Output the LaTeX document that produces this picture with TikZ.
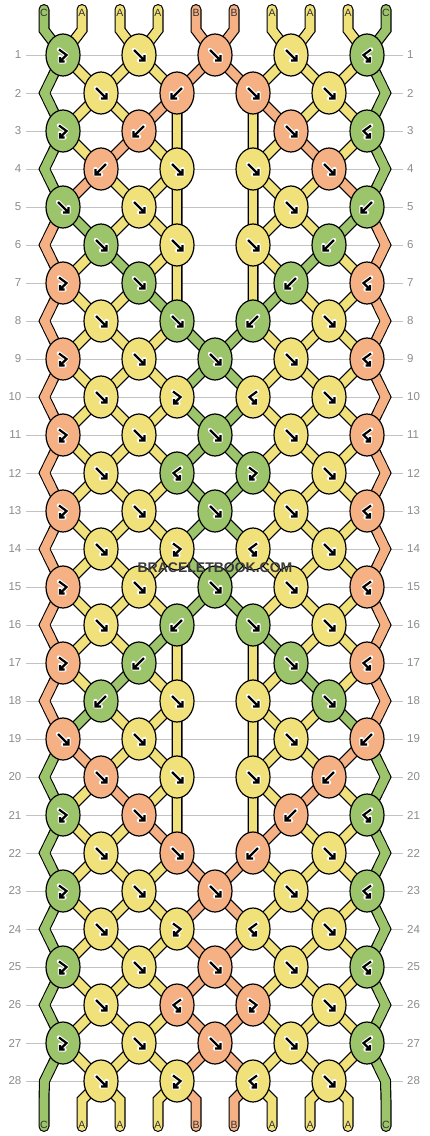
\documentclass[tikz,border=0pt]{standalone}
\usepackage{fontspec}
\setmainfont{Liberation Sans}
\usetikzlibrary{shapes.geometric,calc}
\pgfdeclarelayer{gridlayer}
\pgfdeclarelayer{strandlayer}
\pgfsetlayers{gridlayer,strandlayer,main}
\definecolor{colG}{RGB}{155,196,107}
\definecolor{colY}{RGB}{241,225,122}
\definecolor{colS}{RGB}{245,177,132}
\definecolor{rowgray}{RGB}{140,140,140}
\definecolor{linegray}{RGB}{195,195,195}
\definecolor{markgray}{RGB}{58,58,58}
\def\stA{G,Y,Y,Y,S,S,Y,Y,Y,G}
\def\stB{G,Y,Y,S,Y,Y,S,Y,Y,G}
\def\stC{G,Y,S,Y,Y,Y,Y,S,Y,G}
\def\stD{G,S,Y,Y,Y,Y,Y,Y,S,G}
\def\stE{S,G,Y,Y,Y,Y,Y,Y,G,S}
\def\stF{S,Y,G,Y,Y,Y,Y,G,Y,S}
\def\stG{S,Y,Y,G,Y,Y,G,Y,Y,S}
\def\stH{S,Y,Y,Y,G,G,Y,Y,Y,S}
\newcommand\twodraw[1]{\draw[arwhite] #1; \draw[arblack] #1;}
\newcommand\kaf{\twodraw{(-5,-5)--(5.5,5.5) (5.5,0)--(5.5,5.5)--(0,5.5)}}
\newcommand\kab{\twodraw{(5,-5)--(-5.5,5.5) (-5.5,0)--(-5.5,5.5)--(0,5.5)}}
\newcommand\kafb{\twodraw{(-4,-5.5)--(3.5,0)--(-3,6.5) (-3,2)--(-3,6.5)--(1.5,6.5)}}
\newcommand\kabf{\twodraw{(4,-5.5)--(-3.5,0)--(3,6.5) (3,2)--(3,6.5)--(-1.5,6.5)}}
\begin{document}
\begin{tikzpicture}[x=1pt,y=-1pt,
  knot/.style={ellipse,draw=black,line width=1.2pt,minimum width=34pt,minimum height=42pt,inner sep=0pt},
  blackline/.style={line width=11pt,draw=black,line cap=round,line join=miter},
  colline/.style={line width=8.6pt,line cap=round,line join=miter},
  joint/.style={line width=8.6pt,line cap=butt,line join=miter},
  gridline/.style={draw=linegray,line width=1pt},
  rowlab/.style={text=rowgray,font=\fontsize{11.5}{13}\selectfont,inner sep=0pt},
  endlab/.style={text=black!80,font=\fontsize{10.5}{12}\selectfont,inner sep=0pt},
  arwhite/.style={draw=white,line width=4.4pt,line cap=round,line join=round},
  arblack/.style={draw=black,line width=2.2pt,line cap=butt,line join=miter},
  wm/.style={font=\bfseries\fontsize{14}{16}\selectfont,inner sep=0pt}]
\useasboundingbox (0,0) rectangle (430,1136);
\begin{pgfonlayer}{gridlayer}
\fill[white] (0,0) rectangle (430,1136);
\end{pgfonlayer}
% row lines and labels
\foreach \rr in {1,...,28}{
  \pgfmathsetmacro\yy{55+(\rr-1)*38}
  \begin{pgfonlayer}{gridlayer}
  \draw[gridline] (26,\yy) -- (403,\yy);
  \end{pgfonlayer}
  \node[rowlab,anchor=east] (ll-\rr) at (21.5,\yy) {\rr};
  \node[rowlab,anchor=west] (rl-\rr) at (407,\yy) {\rr};
}
% strand ends
\foreach \ltr [count=\p] in {C,A,A,A,B,B,A,A,A,C}{
  \pgfmathsetmacro\xx{44+(\p-1)*38}
  \coordinate (top-\p) at (\xx,9.5);
  \coordinate (c-0-\p) at (\xx,30);
  \coordinate (c-29-\p) at (\xx,1100);
  \coordinate (bot-\p) at (\xx,1126.5);
}
% virtual points
\foreach \rr in {2,4,...,28}{
  \pgfmathsetmacro\yy{55+(\rr-1)*38}
  \coordinate (c-\rr-1) at (44.5,\yy);
  \coordinate (c-\rr-10) at (385.5,\yy);
}
\foreach \rr in {3,5,7,17,19,21}{
  \pgfmathsetmacro\yy{55+(\rr-1)*38}
  \coordinate (c-\rr-5) at (177,\yy);
  \coordinate (c-\rr-6) at (253,\yy);
}
% knots
\foreach \kr/\ki/\kt/\kc in {
 1/1/fb/G,1/3/f/Y,1/5/f/S,1/7/f/Y,1/9/bf/G,
 2/2/f/Y,2/4/b/S,2/6/f/S,2/8/f/Y,
 3/1/fb/G,3/3/b/S,3/7/f/S,3/9/bf/G,
 4/2/b/S,4/4/f/Y,4/6/f/Y,4/8/f/S,
 5/1/f/G,5/3/f/Y,5/7/f/Y,5/9/b/G,
 6/2/f/G,6/4/f/Y,6/6/f/Y,6/8/b/G,
 7/1/fb/S,7/3/f/G,7/7/b/G,7/9/bf/S,
 8/2/f/Y,8/4/f/G,8/6/b/G,8/8/f/Y,
 9/1/fb/S,9/3/f/Y,9/5/f/G,9/7/f/Y,9/9/bf/S,
 10/2/f/Y,10/4/fb/Y,10/6/bf/Y,10/8/f/Y,
 11/1/fb/S,11/3/f/Y,11/5/f/G,11/7/f/Y,11/9/bf/S,
 12/2/f/Y,12/4/bf/G,12/6/fb/G,12/8/f/Y,
 13/1/fb/S,13/3/f/Y,13/5/f/G,13/7/f/Y,13/9/bf/S,
 14/2/f/Y,14/4/fb/Y,14/6/bf/Y,14/8/f/Y,
 15/1/fb/S,15/3/f/Y,15/5/f/G,15/7/f/Y,15/9/bf/S,
 16/2/f/Y,16/4/b/G,16/6/f/G,16/8/f/Y,
 17/1/fb/S,17/3/b/G,17/7/f/G,17/9/bf/S,
 18/2/b/G,18/4/f/Y,18/6/f/Y,18/8/f/G,
 19/1/f/S,19/3/f/Y,19/7/f/Y,19/9/b/S,
 20/2/f/S,20/4/f/Y,20/6/f/Y,20/8/b/S,
 21/1/fb/G,21/3/f/S,21/7/b/S,21/9/bf/G,
 22/2/f/Y,22/4/f/S,22/6/b/S,22/8/f/Y,
 23/1/fb/G,23/3/f/Y,23/5/f/S,23/7/f/Y,23/9/bf/G,
 24/2/f/Y,24/4/fb/Y,24/6/bf/Y,24/8/f/Y,
 25/1/fb/G,25/3/f/Y,25/5/f/S,25/7/f/Y,25/9/bf/G,
 26/2/f/Y,26/4/bf/S,26/6/fb/S,26/8/f/Y,
 27/1/fb/G,27/3/f/Y,27/5/f/S,27/7/f/Y,27/9/bf/G,
 28/2/f/Y,28/4/fb/Y,28/6/bf/Y,28/8/f/Y}{
  \pgfmathsetmacro\xx{63+(\ki-1)*38}
  \pgfmathsetmacro\yy{55+(\kr-1)*38}
  \pgfmathtruncatemacro\kj{\ki+1}
  \node[knot,fill=col\kc,alias=c-\kr-\ki,alias=c-\kr-\kj] (k-\kr-\ki) at (\xx,\yy) {};
  \begin{scope}[shift={(k-\kr-\ki.center)}]\csname ka\kt\endcsname\end{scope}
}
% strands
\begin{pgfonlayer}{strandlayer}
\foreach \p in {1,...,10}{
  \draw[blackline] (top-\p) -- (c-0-\p) \foreach \rr in {1,...,29}{ -- (c-\rr-\p.center)} -- (bot-\p);
}
\foreach \sc [count=\p] in \stA{
  \draw[colline,draw=col\sc] (top-\p) -- (c-0-\p) -- (c-1-\p.center);
  \draw[colline,draw=col\sc] (c-28-\p.center) -- (c-29-\p) -- (bot-\p);
}
\foreach \rr/\ss in {1/A,2/B,3/C,4/D,5/E,6/F,7/G,8/H,9/H,10/H,11/H,12/H,13/H,14/H,15/H,16/G,17/F,18/E,19/D,20/C,21/B,22/A,23/A,24/A,25/A,26/A,27/A}{
  \pgfmathtruncatemacro\rn{\rr+1}
  \expandafter\let\expandafter\cur\csname st\ss\endcsname
  \foreach \sc [count=\p] in \cur {
    \draw[colline,draw=col\sc] (c-\rr-\p.center) -- (c-\rn-\p.center);
  }
}
\foreach \rr/\sc in {2/G,4/G,6/S,8/S,10/S,12/S,14/S,16/S,18/S,20/G,22/G,24/G,26/G,28/G}{
  \pgfmathtruncatemacro\rp{\rr-1}
  \pgfmathtruncatemacro\rn{\rr+1}
  \foreach \p in {1,10}{
    \draw[joint,draw=col\sc] ($(c-\rp-\p.center)!0.6!(c-\rr-\p)$) -- (c-\rr-\p) -- ($(c-\rr-\p)!0.4!(c-\rn-\p.center)$);
  }
}
\foreach \rr in {3,5,7,17,19,21}{
  \pgfmathtruncatemacro\rp{\rr-1}
  \pgfmathtruncatemacro\rn{\rr+1}
  \foreach \p in {5,6}{
    \draw[joint,draw=colY] ($(c-\rp-\p.center)!0.6!(c-\rr-\p)$) -- (c-\rr-\p) -- ($(c-\rr-\p)!0.4!(c-\rn-\p.center)$);
  }
}
\end{pgfonlayer}
% end letters
\foreach \ltr [count=\p] in {C,A,A,A,B,B,A,A,A,C}{
  \pgfmathsetmacro\xx{44+(\p-1)*38}
  \node[endlab] (tl-\p) at (\xx,12.5) {\ltr};
  \node[endlab] (bl-\p) at (\xx,1124.5) {\ltr};
}
% watermark
\node[wm,text=markgray] (wm) at (215,567.5) {BRACELETBOOK.COM};
\end{tikzpicture}
\end{document}
